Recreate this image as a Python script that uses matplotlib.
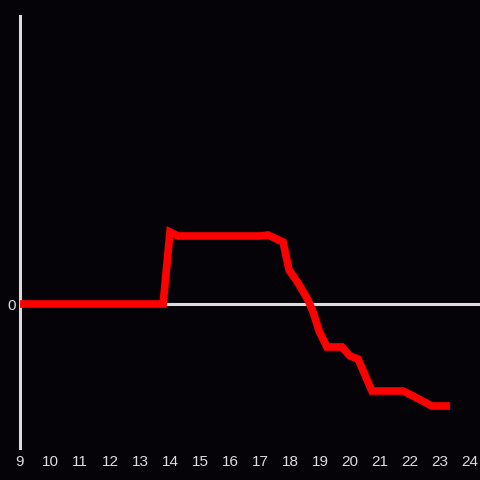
import matplotlib
matplotlib.use("Agg")
import matplotlib.pyplot as plt

# hours of the day and the value curve (arbitrary units, 0 = baseline)
hours = [9, 13.77, 14.0, 14.27, 15.0, 16.0, 17.0, 17.27, 17.77, 17.97, 18.27,
         18.6, 18.77, 18.97, 19.23, 19.73, 20.0, 20.27, 20.73, 21.0, 21.77,
         22.1, 22.73, 23.33]
values = [0, 0, 72, 68, 68, 68, 68, 69, 62, 34, 21, 4, -8, -27, -43, -43,
          -52, -55, -87, -87, -87, -92, -102, -102]
xticks = list(range(9, 25))

bg = "#050307"
fg = "#dcdcdc"
plt.rcParams["font.family"] = ["Liberation Sans", "DejaVu Sans"]

fig = plt.figure(figsize=(4.8, 4.8), dpi=100, facecolor=bg)
ax = fig.add_axes([20 / 480, 32 / 480, 460 / 480, 432 / 480])
ax.set_facecolor(bg)

ax.axhline(0, color=fg, lw=2.2, zorder=1)
ax.plot(hours, values, color="#ff0000", lw=5.5, solid_joinstyle="miter",
        solid_capstyle="butt", zorder=3)

ax.set_xlim(9, 9 + 460 / 30)
ax.set_ylim(-144, 288)
ax.set_xticks(xticks)
ax.set_yticks([0])
ax.tick_params(colors=fg, length=0, labelsize=11, pad=5)
ax.tick_params(axis="y", pad=3)
for s in ["top", "right", "bottom"]:
    ax.spines[s].set_visible(False)
ax.spines["left"].set_color(fg)
ax.spines["left"].set_linewidth(2.2)

fig.savefig("out.png", dpi=100, facecolor=bg)
